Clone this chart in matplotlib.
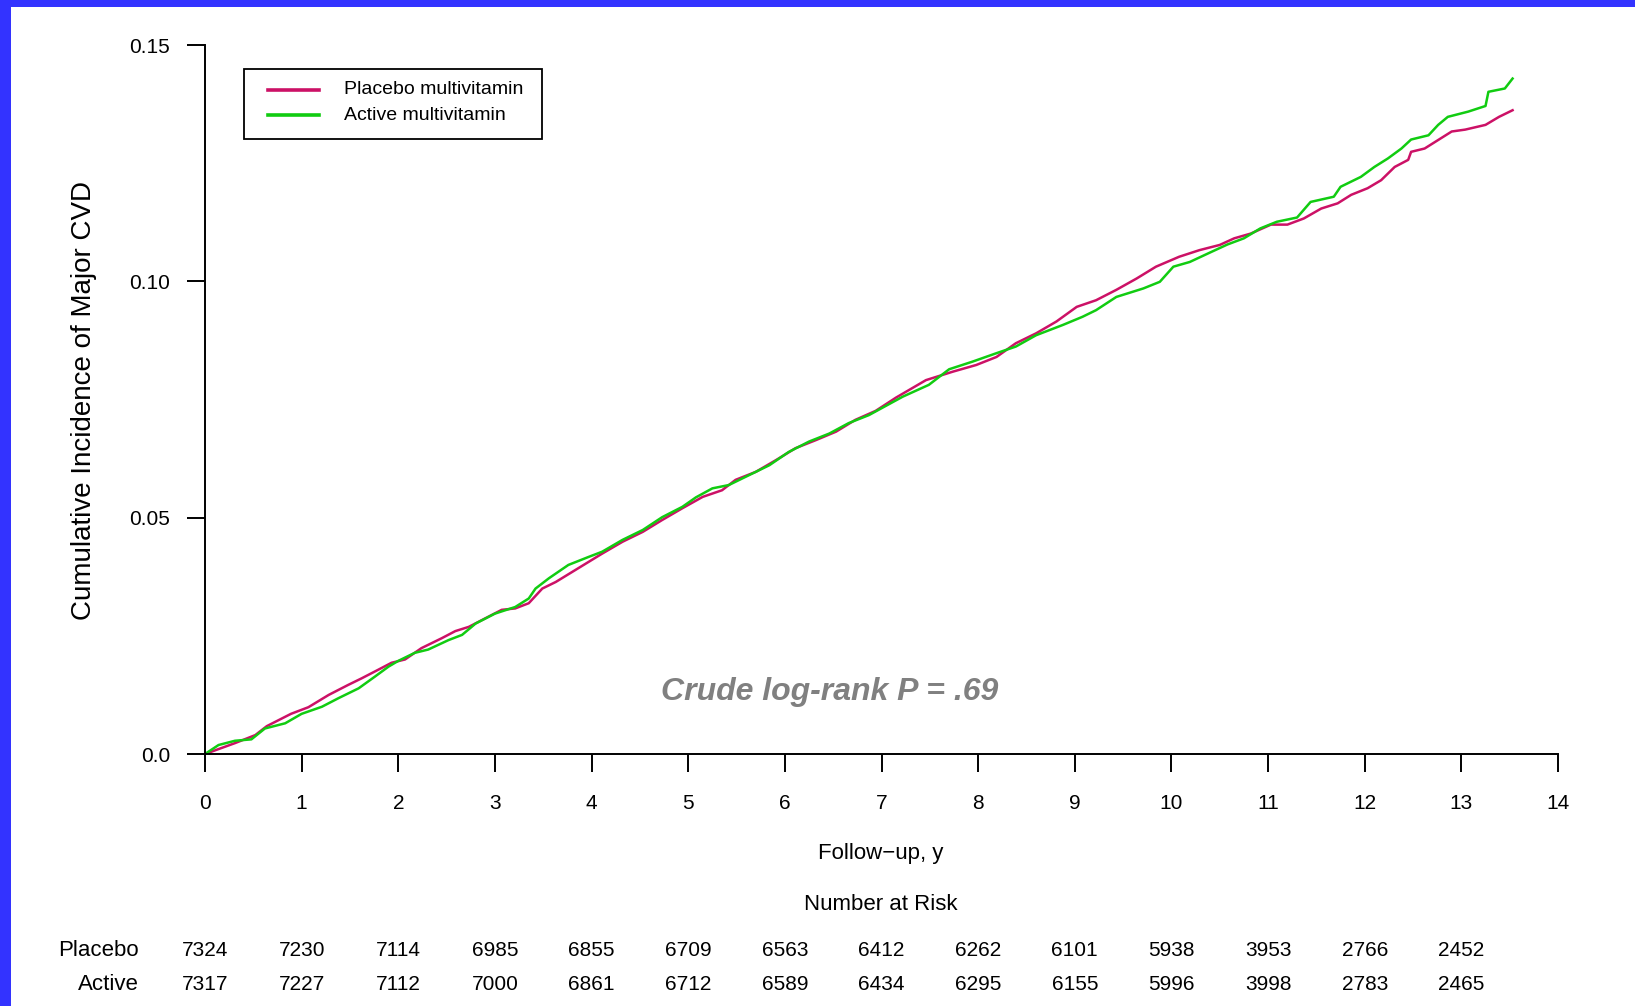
import matplotlib
matplotlib.use("Agg")
import matplotlib.pyplot as plt
import matplotlib.transforms as mtransforms
from matplotlib.patches import Rectangle
from matplotlib.lines import Line2D

plt.rcParams['font.family'] = ['Liberation Sans', 'DejaVu Sans']

# cumulative incidence
placebo_t = [0, 0.31, 0.52, 0.64, 0.89, 1.07, 1.28, 1.48, 1.62, 1.79, 1.93, 2.07, 2.24, 2.45,
             2.59, 2.73, 2.9, 3.07, 3.21, 3.35, 3.49, 3.63, 3.83, 4.11, 4.32, 4.53, 4.73, 4.94,
             5.15, 5.35, 5.49, 5.7, 5.91, 6.11, 6.32, 6.53, 6.73, 6.94, 7.15, 7.46, 7.74, 7.98,
             8.19, 8.39, 8.6, 8.81, 9.02, 9.22, 9.43, 9.64, 9.84, 10.08, 10.29, 10.5, 10.65,
             10.82, 11.03, 11.2, 11.37, 11.55, 11.72, 11.86, 12.03, 12.17, 12.31, 12.45, 12.48,
             12.62, 12.76, 12.9, 13.04, 13.25, 13.39, 13.53]
placebo_v = [0, 0.0023, 0.004, 0.0059, 0.0085, 0.0099, 0.0125, 0.0146, 0.016, 0.0178, 0.0193,
             0.020, 0.0224, 0.0245, 0.026, 0.0269, 0.0287, 0.0305, 0.0308, 0.0319, 0.035, 0.0364,
             0.0389, 0.0424, 0.0449, 0.047, 0.0495, 0.052, 0.0544, 0.0558, 0.058, 0.0597, 0.0622,
             0.0647, 0.0664, 0.0682, 0.0707, 0.0726, 0.0754, 0.0791, 0.0809, 0.0823, 0.084,
             0.0869, 0.089, 0.0915, 0.0946, 0.096, 0.0982, 0.1006, 0.1031, 0.1052, 0.1066,
             0.1077, 0.1091, 0.1101, 0.112, 0.112, 0.1133, 0.1154, 0.1165, 0.1183, 0.1197,
             0.1214, 0.1242, 0.1257, 0.1274, 0.1281, 0.1299, 0.1317, 0.1321, 0.1331, 0.1348,
             0.1362]

active_t = [0, 0.14, 0.31, 0.48, 0.62, 0.83, 1.0, 1.21, 1.38, 1.59, 1.76, 1.9, 2.0, 2.17, 2.31,
            2.52, 2.66, 2.8, 3.0, 3.21, 3.35, 3.42, 3.56, 3.76, 3.97, 4.11, 4.32, 4.53, 4.73,
            4.94, 5.08, 5.25, 5.42, 5.63, 5.84, 6.04, 6.25, 6.46, 6.66, 6.87, 7.22, 7.49, 7.7,
            7.94, 8.19, 8.39, 8.6, 8.88, 9.08, 9.22, 9.43, 9.71, 9.88, 10.02, 10.19, 10.4,
            10.58, 10.75, 10.92, 11.09, 11.3, 11.44, 11.68, 11.75, 11.96, 12.1, 12.24, 12.38,
            12.48, 12.66, 12.76, 12.86, 13.07, 13.25, 13.28, 13.45, 13.53]
active_v = [0, 0.0019, 0.0028, 0.0031, 0.0054, 0.0065, 0.0085, 0.01, 0.0118, 0.0139, 0.0164,
            0.0185, 0.0197, 0.0214, 0.0221, 0.0241, 0.0252, 0.0276, 0.0297, 0.0311, 0.0329,
            0.035, 0.0372, 0.04, 0.0417, 0.0428, 0.0453, 0.0474, 0.0501, 0.0523, 0.0543,
            0.0562, 0.0569, 0.059, 0.0611, 0.0639, 0.0661, 0.0678, 0.07, 0.0717, 0.0756,
            0.0781, 0.0814, 0.083, 0.0848, 0.0862, 0.0886, 0.0908, 0.0925, 0.0939, 0.0967,
            0.0985, 0.0999, 0.1031, 0.1041, 0.1061, 0.1078, 0.1091, 0.1112, 0.1126, 0.1135,
            0.1168, 0.1179, 0.12, 0.1221, 0.1242, 0.126, 0.1281, 0.13, 0.1309, 0.1331, 0.1348,
            0.1359, 0.1371, 0.1401, 0.1408, 0.1429]

risk_years = list(range(14))
risk_placebo = [7324, 7230, 7114, 6985, 6855, 6709, 6563, 6412, 6262, 6101, 5938, 3953, 2766, 2452]
risk_active = [7317, 7227, 7112, 7000, 6861, 6712, 6589, 6434, 6295, 6155, 5996, 3998, 2783, 2465]

x_ticks = list(range(15))
y_ticks = [0.0, 0.05, 0.10, 0.15]
y_ticklabels = ['0.0', '0.05', '0.10', '0.15']

series_names = ['Placebo multivitamin', 'Active multivitamin']
series_colors = ['#cc1166', '#11cc11']

W, H = 1635, 1006
fig = plt.figure(figsize=(W / 100, H / 100), dpi=100)
fig.patch.set_facecolor('white')

# blue frame strips (left and top)
fig.patches.append(Rectangle((0, 0), 11 / W, 1, transform=fig.transFigure,
                             facecolor='#3333ff', edgecolor='none'))
fig.patches.append(Rectangle((0, 1 - 7 / H), 1, 7 / H, transform=fig.transFigure,
                             facecolor='#3333ff', edgecolor='none'))

ax = fig.add_axes([205 / W, 1 - 754 / H, (1558 - 205) / W, (754 - 45) / H])
ax.plot(placebo_t, placebo_v, color=series_colors[0], lw=1.8)
ax.plot(active_t, active_v, color=series_colors[1], lw=1.8)

ax.set_xlim(0, 14)
ax.set_ylim(0, 0.15)
ax.set_xticks(x_ticks)
ax.set_yticks(y_ticks)
ax.set_yticklabels(y_ticklabels)
for s in ['top', 'right']:
    ax.spines[s].set_visible(False)
for s in ['left', 'bottom']:
    ax.spines[s].set_linewidth(1.4)
ax.tick_params(axis='both', direction='out', length=13, width=1.4, labelsize=15)
ax.tick_params(axis='x', pad=16)
ax.tick_params(axis='y', pad=12)

# legend box drawn by hand so the inner spacing matches
fig.patches.append(Rectangle((244 / W, 1 - 139 / H), (542 - 244) / W, 70 / H,
                             transform=fig.transFigure, facecolor='white',
                             edgecolor='black', linewidth=1.3))
for i, (name, col) in enumerate(zip(series_names, series_colors)):
    yy = 1 - (90 + 25 * i) / H
    fig.lines.append(Line2D([268 / W, 319 / W], [yy, yy], transform=fig.transFigure,
                            color=col, lw=2.6))
    fig.text(344 / W, yy, name, ha='left', va='center', fontsize=14)

ax.text(6.46, 0.0132, 'Crude log-rank P = .69', color='#808080', fontsize=23,
        fontweight='bold', fontstyle='italic', ha='center', va='center')

fig.text(84 / W, 1 - 401 / H, 'Cumulative Incidence of Major CVD', rotation=90,
         ha='center', va='center', fontsize=20)
fig.text(881 / W, 1 - 854 / H, 'Follow\u2212up, y', ha='center', va='center', fontsize=16)
fig.text(881 / W, 1 - 905 / H, 'Number at Risk', ha='center', va='center', fontsize=16)

fig.text(139 / W, 1 - 951 / H, 'Placebo', ha='right', va='center', fontsize=16)
fig.text(139 / W, 1 - 985 / H, 'Active', ha='right', va='center', fontsize=16)

trans = mtransforms.blended_transform_factory(ax.transData, fig.transFigure)
for yr, p, a in zip(risk_years, risk_placebo, risk_active):
    ax.text(yr, 1 - 950 / H, str(p), transform=trans, ha='center', va='center', fontsize=15)
    ax.text(yr, 1 - 984 / H, str(a), transform=trans, ha='center', va='center', fontsize=15)

fig.savefig('out.png', dpi=100)
